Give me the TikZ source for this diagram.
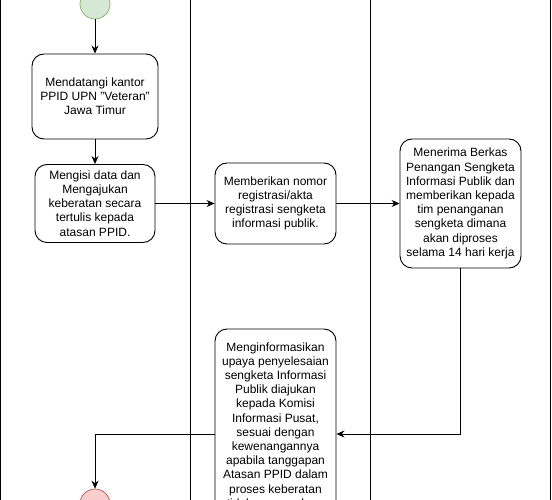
\documentclass[tikz,border=0pt]{standalone}
\usepackage{fontspec}
\setmainfont{Liberation Sans}
\usepackage{tikz}
\usetikzlibrary{arrows.meta}
\definecolor{okfill}{HTML}{D5E8D4}
\definecolor{okline}{HTML}{82B366}
\definecolor{endfill}{HTML}{F8CECC}
\definecolor{endline}{HTML}{B85450}
\begin{document}
\begin{tikzpicture}[x=1pt, y=-1pt, line width=0.9pt,
    task/.style={draw, rounded corners=12pt, align=center, inner sep=2pt,
      font=\fontsize{12}{14.2}\selectfont},
    ev/.style={draw, circle, minimum size=30pt, inner sep=0pt, line width=0.7pt},
    arr/.style={draw, -{Stealth[length=8pt, width=7pt]}}]
    \useasboundingbox (0,0) rectangle (552,500);
    \clip (0,0) rectangle (552,500);

    % lanes
    \draw (0.5,0) -- (0.5,500);
    \draw (190.5,0) -- (190.5,500);
    \draw (370.5,0) -- (370.5,500);
    \draw (550.5,0) -- (550.5,500);

    \node[ev, fill=okfill, draw=okline] (start) at (95,4) {};
    \node[task, minimum width=126pt, minimum height=85pt] (visit) at (95,96.5)
      {Mendatangi kantor\\PPID UPN \symbol{34}Veteran\symbol{34}\\Jawa Timur};
    \node[task, minimum width=120pt, minimum height=78pt] (form) at (95,203.5)
      {Mengisi data dan\\Mengajukan\\keberatan secara\\tertulis kepada\\atasan PPID.};
    \node[task, minimum width=121pt, minimum height=81pt] (regist) at (275.5,203.5)
      {Memberikan nomor\\registrasi/akta\\registrasi sengketa\\informasi publik.};
    \node[task, minimum width=121pt, minimum height=129pt] (receive) at (460.5,203.5)
      {Menerima Berkas\\Penangan Sengketa\\Informasi Publik dan\\memberikan kepada\\tim penanganan\\sengketa dimana\\akan diproses\\selama 14 hari kerja};
    \node[task, minimum width=121pt, minimum height=210pt] (inform) at (275.5,434)
      {Menginformasikan\\upaya penyelesaian\\sengketa Informasi\\Publik diajukan\\kepada Komisi\\Informasi Pusat,\\sesuai dengan\\kewenangannya\\apabila tanggapan\\Atasan PPID dalam\\proses keberatan\\tidak memuaskan.\\[4pt]};
    \node[ev, fill=endfill, draw=endline] (stop) at (95,504) {};

    \draw[arr] (start) -- (visit);
    \draw[arr] (visit) -- (form);
    \draw[arr] (form) -- (regist);
    \draw[arr] (regist) -- (receive);
    \draw[arr] (receive.south) |- (inform.east);
    \draw[arr] (inform.west) -| (stop.north);
\end{tikzpicture}
\end{document}
